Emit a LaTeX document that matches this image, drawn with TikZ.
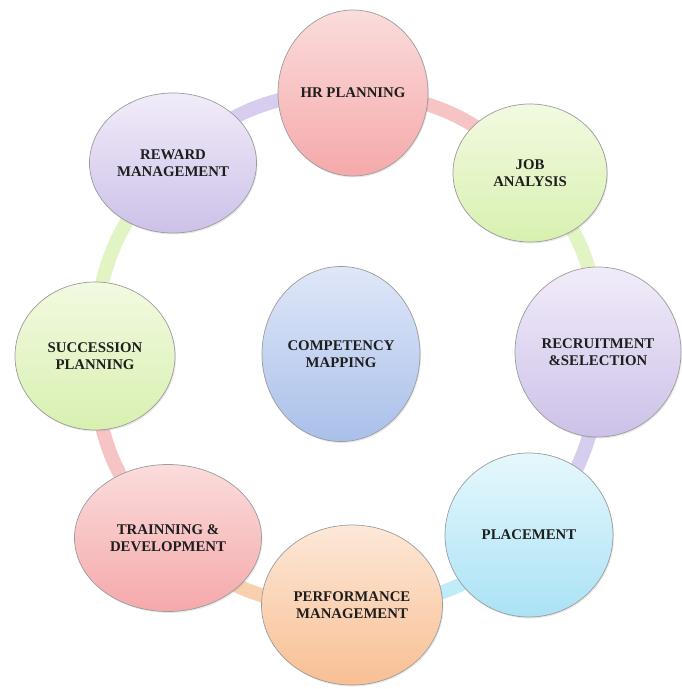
\documentclass[tikz,border=0pt]{standalone}
\usepackage{fontspec}
\setmainfont{Liberation Serif}
\usepackage{tikz}
\usepackage{xcolor}
\usetikzlibrary{shapes.geometric,shadows,backgrounds}
\definecolor{ink}      {HTML}{1E1E1E}
\definecolor{rimgray}  {HTML}{9C9C9C}
\definecolor{pinktop}  {HTML}{FBDCDC}
\definecolor{pinkbot}  {HTML}{F5A9AA}
\definecolor{greentop} {HTML}{F2FAE1}
\definecolor{greenbot} {HTML}{D8F0B0}
\definecolor{lilactop} {HTML}{F1ECF9}
\definecolor{lilacbot} {HTML}{CCC1E8}
\definecolor{skytop}   {HTML}{E6F8FD}
\definecolor{skybot}   {HTML}{AAE2F5}
\definecolor{peachtop} {HTML}{FDE8D8}
\definecolor{peachbot} {HTML}{F8BF93}
\definecolor{bluetop}  {HTML}{DFE7F8}
\definecolor{bluebot}  {HTML}{A9C0EA}
\definecolor{bandpink} {HTML}{F7C4C6}
\definecolor{bandgreen}{HTML}{E2F3C4}
\definecolor{bandlilac}{HTML}{D7CEEF}
\definecolor{bandsky}  {HTML}{C0ECF9}
\definecolor{bandpeach}{HTML}{F9D0AE}

\begin{document}
\begin{tikzpicture}[x=1pt,y=1pt,
    bubble/.style={ellipse,draw=rimgray,line width=0.7pt,inner sep=0pt,
      align=center,text=ink,
      font=\bfseries\fontsize{14.8}{17}\selectfont,
      drop shadow={opacity=0.18,shadow xshift=1pt,shadow yshift=-1.5pt}},
    pinkb/.style={bubble,top color=pinktop,bottom color=pinkbot},
    greenb/.style={bubble,top color=greentop,bottom color=greenbot},
    lilacb/.style={bubble,top color=lilactop,bottom color=lilacbot},
    skyb/.style={bubble,top color=skytop,bottom color=skybot},
    peachb/.style={bubble,top color=peachtop,bottom color=peachbot},
    blueb/.style={bubble,top color=bluetop,bottom color=bluebot},
    band/.style={line width=14pt}]
  \useasboundingbox (0,0) rectangle (681,689);

  % ring of stages
  \node[pinkb, minimum width=150, minimum height=166] (hrplan) at (353,596) {HR PLANNING};
  \node[greenb, minimum width=154, minimum height=138] (jobanal) at (530,516) {JOB\\ANALYSIS};
  \node[lilacb, minimum width=166, minimum height=170] (recruit) at (598,337) {RECRUITMENT\\\&SELECTION};
  \node[skyb, minimum width=168, minimum height=164] (placement) at (529,154) {PLACEMENT};
  \node[peachb, minimum width=181, minimum height=160] (perform) at (352,84) {PERFORMANCE\\MANAGEMENT};
  \node[pinkb, minimum width=187, minimum height=147] (training) at (168,151) {TRAINNING \&\\DEVELOPMENT};
  \node[greenb, minimum width=160, minimum height=148] (succession) at (95,333) {SUCCESSION\\PLANNING};
  \node[lilacb, minimum width=167, minimum height=140] (reward) at (173,526) {REWARD\\MANAGEMENT};

  % hub
  \node[blueb, minimum width=158, minimum height=175] (compmap) at (341,335) {COMPETENCY\\MAPPING};

  % bands behind the bubbles
  \begin{scope}[on background layer]
    \foreach \from/\to/\col in {hrplan/jobanal/bandpink,jobanal/recruit/bandgreen,
        recruit/placement/bandlilac,placement/perform/bandsky,perform/training/bandpeach,
        training/succession/bandpink,succession/reward/bandgreen,reward/hrplan/bandlilac} {
      \draw[band,\col] (\from.center) to[bend left=22.5] (\to.center);
    }
  \end{scope}
\end{tikzpicture}
\end{document}
